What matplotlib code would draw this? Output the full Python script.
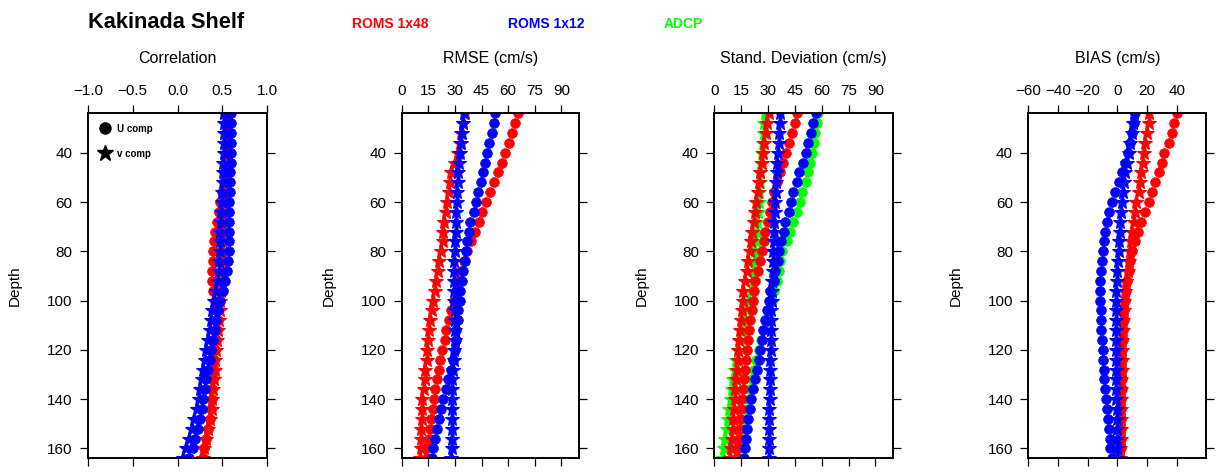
import matplotlib
matplotlib.use("Agg")
import matplotlib.pyplot as plt
from matplotlib.lines import Line2D

plt.rcParams['font.family'] = ['Liberation Sans', 'DejaVu Sans']

# ---------------- data ----------------
depth = [24, 28, 32, 36, 40, 44, 48, 52, 56, 60, 64, 68, 72, 76, 80, 84, 88, 92,
         96, 100, 104, 108, 112, 116, 120, 124, 128, 132, 136, 140, 144, 148, 152,
         156, 160, 164]

# Correlation
cor_r_u = [0.57, 0.57, 0.57, 0.565, 0.56, 0.55, 0.54, 0.52, 0.50, 0.48, 0.46, 0.44,
           0.42, 0.41, 0.40, 0.40, 0.39, 0.39, 0.40, 0.42, 0.44, 0.45, 0.44, 0.43,
           0.42, 0.41, 0.41, 0.40, 0.39, 0.38, 0.37, 0.36, 0.34, 0.32, 0.30, 0.28]
cor_r_v = [0.52, 0.53, 0.53, 0.53, 0.53, 0.53, 0.52, 0.52, 0.52, 0.52, 0.51, 0.51,
           0.51, 0.50, 0.50, 0.50, 0.50, 0.50, 0.49, 0.48, 0.47, 0.46, 0.45, 0.44,
           0.43, 0.42, 0.42, 0.41, 0.40, 0.39, 0.38, 0.36, 0.34, 0.32, 0.30, 0.28]
cor_b_u = [0.60, 0.60, 0.60, 0.60, 0.60, 0.60, 0.59, 0.59, 0.59, 0.58, 0.58, 0.58,
           0.58, 0.57, 0.57, 0.56, 0.55, 0.53, 0.51, 0.47, 0.45, 0.43, 0.42, 0.40,
           0.37, 0.36, 0.34, 0.32, 0.31, 0.29, 0.27, 0.25, 0.23, 0.20, 0.17, 0.13]
cor_b_v = [0.52, 0.52, 0.52, 0.52, 0.52, 0.51, 0.51, 0.51, 0.50, 0.50, 0.49, 0.49,
           0.48, 0.48, 0.47, 0.46, 0.46, 0.45, 0.43, 0.41, 0.39, 0.37, 0.36, 0.34,
           0.32, 0.31, 0.29, 0.27, 0.25, 0.24, 0.22, 0.18, 0.16, 0.13, 0.10, 0.06]

# RMSE (cm/s)
rmse_r_u = [65.8, 64.0, 62.1, 60.2, 58.2, 56.3, 54.1, 52.0, 50.0, 47.5, 45.3, 43.3,
            41.4, 39.2, 36.9, 35.0, 33.6, 32.3, 30.8, 29.3, 28.0, 26.7, 25.2, 24.2,
            22.9, 21.8, 20.9, 20.0, 18.8, 18.1, 17.7, 16.4, 15.8, 15.1, 14.3, 14.0]
rmse_r_v = [35.4, 34.5, 33.6, 32.6, 31.7, 29.8, 28.0, 27.0, 26.5, 25.7, 24.8, 23.7,
            23.3, 23.0, 22.0, 21.1, 20.5, 19.6, 18.6, 17.7, 16.8, 16.2, 15.5, 14.9,
            14.5, 14.0, 13.4, 13.0, 12.3, 11.7, 11.5, 11.2, 11.0, 10.6, 10.6, 10.4]
rmse_b_u = [52.8, 51.8, 50.7, 49.4, 47.9, 46.8, 45.7, 44.7, 42.9, 41.6, 40.5, 38.6,
            37.8, 36.7, 36.0, 35.4, 34.5, 34.1, 33.0, 32.6, 31.9, 31.7, 30.8, 30.4,
            29.8, 28.9, 27.6, 26.1, 24.8, 23.3, 22.0, 21.1, 20.0, 18.6, 17.7, 17.1]
rmse_b_v = [34.9, 34.5, 34.1, 33.3, 32.6, 32.2, 31.7, 31.5, 31.3, 31.0, 30.8, 30.6,
            30.4, 30.1, 29.8, 29.5, 29.3, 29.3, 29.3, 29.5, 29.8, 29.8, 29.8, 29.8,
            29.5, 29.3, 28.9, 28.5, 28.5, 28.5, 28.5, 28.5, 28.5, 28.5, 28.5, 28.0]

# Standard deviation (cm/s)
std_r_u = [46.2, 45.0, 43.5, 42.0, 40.3, 38.5, 36.8, 35.0, 33.6, 32.2, 31.0, 29.8,
           28.6, 27.6, 26.6, 25.6, 24.4, 23.0, 22.2, 21.5, 20.8, 20.2, 19.6, 19.0,
           18.4, 17.8, 17.2, 16.6, 16.1, 15.6, 15.1, 14.6, 14.1, 13.6, 13.2, 12.8]
std_r_v = [30.3, 29.5, 28.8, 28.0, 27.3, 26.5, 25.7, 25.0, 24.2, 23.5, 22.8, 22.0,
           21.3, 20.6, 19.8, 19.0, 18.1, 17.0, 16.3, 15.9, 15.4, 14.9, 14.5, 14.0,
           13.5, 13.1, 12.6, 12.2, 11.8, 11.4, 11.0, 10.6, 10.2, 9.8, 9.4, 9.0]
std_b_u = [56.7, 55.0, 53.9, 52.6, 51.0, 49.3, 47.4, 46.1, 44.2, 42.8, 41.5, 39.6,
           38.7, 37.4, 36.4, 35.5, 34.0, 33.1, 31.2, 30.3, 29.2, 28.1, 27.4, 26.6,
           25.6, 24.7, 23.6, 22.5, 21.6, 20.6, 19.7, 18.8, 18.3, 17.7, 17.0, 16.4]
std_b_v = [36.8, 36.5, 36.2, 35.9, 35.6, 35.3, 35.0, 34.7, 34.4, 34.1, 33.8, 33.6,
           33.4, 33.2, 33.0, 32.8, 32.6, 32.4, 32.2, 32.0, 31.8, 31.7, 31.6, 31.5,
           31.4, 31.3, 31.2, 31.1, 31.0, 30.9, 30.8, 30.7, 30.6, 30.5, 30.4, 30.3]
std_g_u = [57.8, 57.3, 56.5, 55.5, 54.5, 53.5, 52.6, 51.1, 48.9, 48.0, 46.1, 44.2,
           42.4, 40.5, 37.7, 36.8, 35.9, 35.0, 33.5, 32.0, 30.5, 29.0, 27.5, 26.0,
           24.8, 23.5, 22.3, 21.2, 20.2, 19.2, 18.2, 17.2, 16.3, 15.4, 14.6, 13.8]
std_g_v = [28.4, 28.0, 27.5, 27.0, 26.6, 26.2, 25.8, 25.4, 25.0, 24.7, 24.4, 24.1,
           23.8, 23.4, 23.0, 22.6, 22.2, 21.6, 20.5, 19.2, 18.0, 16.8, 15.6, 14.5,
           13.4, 12.4, 11.5, 10.7, 9.9, 9.1, 8.3, 7.6, 6.9, 6.2, 5.5, 4.8]

# BIAS (cm/s)
bias_r_u = [40.4, 38.1, 37.0, 34.7, 31.8, 30.2, 28.0, 25.7, 23.5, 21.2, 18.9, 16.2,
            14.0, 12.2, 9.9, 8.8, 7.7, 6.5, 5.9, 5.4, 4.7, 4.3, 3.8, 3.6,
            3.4, 3.2, 3.1, 3.0, 2.9, 2.8, 2.7, 2.6, 2.5, 2.3, 2.2, 2.0]
bias_r_v = [21.2, 21.2, 20.1, 18.9, 18.3, 17.4, 16.2, 15.6, 14.4, 12.9, 12.2, 11.0,
            9.9, 9.2, 8.8, 7.7, 7.0, 6.1, 5.4, 4.7, 4.3, 3.8, 3.6, 3.4,
            3.2, 3.0, 2.9, 2.8, 2.7, 2.6, 2.5, 2.4, 2.3, 2.2, 2.1, 2.0]
bias_b_u = [12.2, 11.0, 9.9, 8.8, 7.0, 5.4, 3.2, 0.9, -1.4, -3.6, -5.9, -7.0,
            -8.1, -9.2, -9.9, -10.4, -11.0, -11.5, -11.5, -11.5, -11.0, -11.0, -10.8, -10.4,
            -9.9, -9.7, -9.2, -8.8, -8.1, -7.7, -7.0, -6.3, -5.9, -5.2, -4.7, -3.6]
bias_b_v = [11.0, 10.6, 9.9, 8.8, 7.7, 6.5, 5.4, 4.3, 3.8, 3.2, 2.5, 2.0,
            1.6, 1.4, 0.9, 0.2, -0.2, -0.5, -0.7, -0.9, -1.0, -1.0, -1.1, -1.1,
            -1.0, -1.0, -0.9, -0.8, -0.7, -0.6, -0.5, -0.4, -0.3, -0.2, -0.1, 0.0]

titles = ["Correlation", "RMSE (cm/s)", "Stand. Deviation (cm/s)", "BIAS (cm/s)"]
xlims = [(-1.0, 1.0), (0, 100), (0, 100), (-60, 60)]
xticks = [[-1.0, -0.5, 0.0, 0.5, 1.0],
          [0, 15, 30, 45, 60, 75, 90],
          [0, 15, 30, 45, 60, 75, 90],
          [-60, -40, -20, 0, 20, 40]]
yticks = [40, 60, 80, 100, 120, 140, 160]
series_names = ["ROMS 1x48", "ROMS 1x12", "ADCP"]

RED, BLUE, GREEN = "#ff0000", "#0000ff", "#00ff00"

# (u values, v values, colour) in drawing order for each panel
panel_series = [
    [(cor_r_u, cor_r_v, RED), (cor_b_u, cor_b_v, BLUE)],
    [(rmse_r_u, rmse_r_v, RED), (rmse_b_u, rmse_b_v, BLUE)],
    [(std_g_u, std_g_v, GREEN), (std_r_u, std_r_v, RED), (std_b_u, std_b_v, BLUE)],
    [(bias_r_u, bias_r_v, RED), (bias_b_u, bias_b_v, BLUE)],
]

# ---------------- layout (pixels) ----------------
W, H = 1223, 472
fig = plt.figure(figsize=(W / 100, H / 100), dpi=100)
ax_left_px = [88, 401.7, 714.3, 1028.3]
ax_w_px = [179, 177.5, 179, 178]
ax_top_px, ax_bot_px = 113.3, 458.3

for i in range(4):
    ax = fig.add_axes([ax_left_px[i] / W, 1 - ax_bot_px / H,
                       ax_w_px[i] / W, (ax_bot_px - ax_top_px) / H])
    for u, v, c in panel_series[i]:
        ax.plot(u, depth, linestyle="none", marker="o", color=c,
                markersize=7.0, markeredgewidth=0.5)
        ax.plot(v, depth, linestyle="none", marker="*", color=c,
                markersize=11, markeredgewidth=0.8)
    ax.set_xlim(*xlims[i])
    ax.set_ylim(164, 24)
    ax.set_xticks(xticks[i])
    ax.set_yticks(yticks)
    if i == 0:
        ax.set_xticklabels(["\u22121.0", "\u22120.5", "0.0", "0.5", "1.0"])
    ax.tick_params(axis="both", direction="out", length=6, width=0.9,
                   labelsize=11, colors="black", pad=5)
    ax.tick_params(axis="x", top=True, bottom=True, labeltop=True, labelbottom=False)
    ax.tick_params(axis="y", left=True, right=True, labelleft=True, labelright=False)
    for sp in ax.spines.values():
        sp.set_linewidth(1.4)
        sp.set_color("black")
    cx = (ax_left_px[i] + ax_w_px[i] / 2) / W
    fig.text(cx, 1 - 58.5 / H, titles[i], ha="center", va="center", fontsize=11.5)
    fig.text((ax_left_px[i] - 73) / W, 1 - 285.5 / H, "Depth", rotation=90,
             ha="center", va="center", fontsize=11)
    if i == 0:
        handles = [Line2D([], [], linestyle="none", marker="o", color="black", markersize=8),
                   Line2D([], [], linestyle="none", marker="*", color="black", markersize=12)]
        ax.legend(handles, ["U comp", "v comp"], loc="upper left",
                  bbox_to_anchor=(0.03, 0.99), frameon=False,
                  prop={"weight": "bold", "size": 7}, handlelength=1.0,
                  handletextpad=0.7, labelspacing=1.55, borderaxespad=0.3)

fig.text(88 / W, 1 - 22 / H, "Kakinada Shelf", fontsize=15.7, fontweight="bold",
         ha="left", va="center")
for name, col, xpx in zip(series_names, [RED, BLUE, GREEN], [352, 508, 664]):
    fig.text(xpx / W, 1 - 24.5 / H, name, color=col, fontsize=10,
             fontweight="bold", ha="left", va="center")

fig.savefig("out.png", dpi=100)
